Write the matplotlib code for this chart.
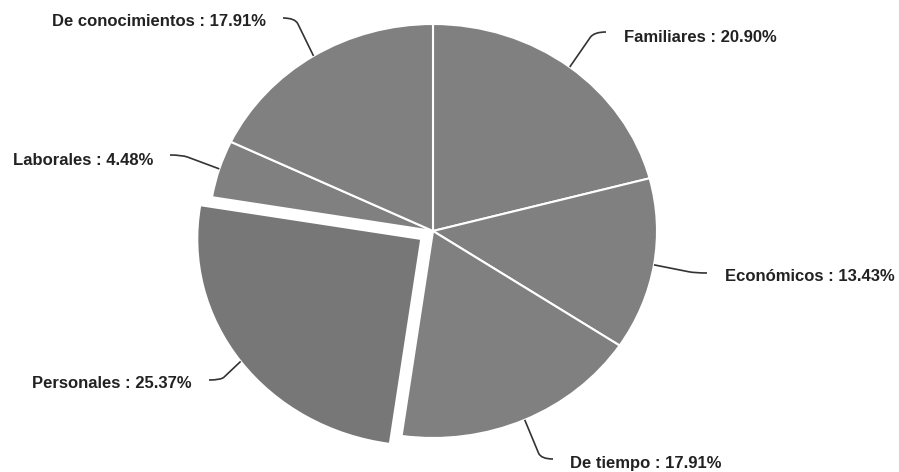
import numpy as np
import matplotlib
matplotlib.use('Agg')
import matplotlib.pyplot as plt
from matplotlib.path import Path
from matplotlib.patches import PathPatch

# Data
categories = ["Familiares", "Económicos", "De tiempo", "Personales",
              "Laborales", "De conocimientos"]
percentages = [20.90, 13.43, 17.91, 25.37, 4.48, 17.91]
explode = [0, 0, 0, 0.065, 0, 0]
slice_colors = ["#808080", "#808080", "#808080", "#777777", "#808080", "#808080"]

# Layout (pixel space of the 899x472 canvas); the source picture is a bit
# wider than tall, so the pie is an ellipse
W, H = 899, 472
CX, CY, RX, RY = 433, 231, 224, 207

# label text anchor (x, baseline y, ha) and where the connector meets the label
label_pos = [
    (624, 42, "left", 606, 32),
    (725, 281, "left", 707, 273),
    (570, 468, "left", 553, 459),
    (192, 388, "right", 209, 380),
    (153, 165, "right", 170, 155),
    (266, 26, "right", 283, 18),
]


def px(x, y):
    """pixel coords -> data coords"""
    return (x - CX) / RX, (CY - y) / RY


fig = plt.figure(figsize=(W / 100, H / 100), dpi=100)
ax = fig.add_axes([0, 0, 1, 1])

wedges, _ = ax.pie(percentages, colors=slice_colors, explode=explode,
                   startangle=90, counterclock=False,
                   wedgeprops=dict(edgecolor="white", linewidth=1.5))
ax.set_aspect("auto")
ax.set_xlim(px(0, 0)[0], px(W, 0)[0])
ax.set_ylim(px(0, H)[1], px(0, 0)[1])
ax.axis("off")

for w, name, pct, lp in zip(wedges, categories, percentages, label_pos):
    tx, ty, ha, lx, ly = lp
    mid = np.deg2rad((w.theta1 + w.theta2) / 2)
    cx, cy = w.center
    p0 = (cx + np.cos(mid), cy + np.sin(mid))
    end = px(lx, ly)
    sgn = -1 if ha == "left" else 1
    corner = px(lx + sgn * 12, ly)
    # small rounded bend near the label, then straight to the pie edge
    vx, vy = p0[0] - corner[0], p0[1] - corner[1]
    frac = 0.15
    after = (corner[0] + vx * frac, corner[1] + vy * frac)
    path = Path([end, corner, after, p0],
                [Path.MOVETO, Path.CURVE3, Path.CURVE3, Path.LINETO])
    ax.add_patch(PathPatch(path, fill=False, edgecolor="#333333",
                           linewidth=1.2))
    ax.text(*px(tx, ty), f"{name} : {pct:.2f}%", ha=ha, va="baseline",
            fontsize=12, fontweight="bold", color="#222222",
            family="Liberation Sans")

plt.savefig("out.png", dpi=100)
plt.close()
